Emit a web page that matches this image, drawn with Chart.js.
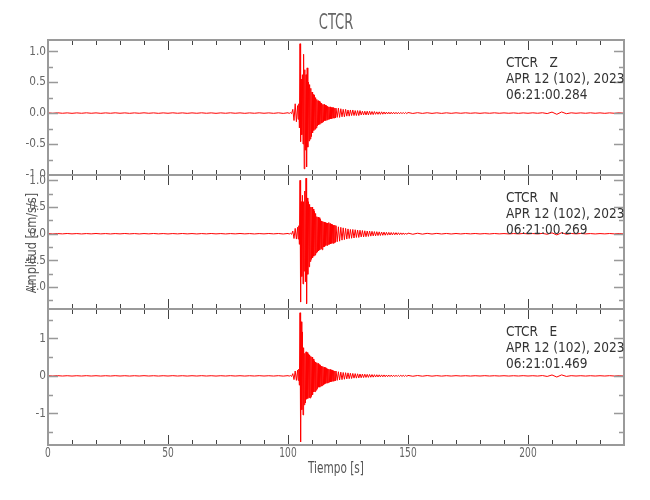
<!DOCTYPE html>
<html>
<head>
<meta charset="utf-8">
<script src="https://cdn.jsdelivr.net/npm/chart.js@4/dist/chart.umd.min.js"></script>
<style>
html,body{margin:0;padding:0;background:#fff;}
#wrap{position:relative;width:650px;height:500px;overflow:hidden;background:#fff;}
canvas{position:absolute;left:0;}
.txt{position:absolute;font-family:"Liberation Sans Narrow","DejaVu Sans Condensed","Liberation Sans",sans-serif;color:#555;white-space:nowrap;z-index:5;text-align:center;}
#title{left:236px;width:200px;top:8px;line-height:28px;font-size:22px;color:#666;transform:scaleX(0.66);}
#xtitle{left:236px;width:200px;top:458px;line-height:20px;font-size:15px;color:#555;transform:scaleX(0.78);}
#ytitle{left:-39px;top:234px;width:140px;height:18px;line-height:18px;font-size:14px;color:#555;transform:rotate(-90deg) scaleX(0.9);}
</style>
</head>
<body>
<div id="wrap">
  <canvas id="c1" width="650" height="176" style="top:0px"></canvas>
  <canvas id="c2" width="650" height="140" style="top:170px"></canvas>
  <canvas id="c3" width="650" height="196" style="top:304px"></canvas>
  <div class="txt" id="title">CTCR</div>
  <div class="txt" id="xtitle">Tiempo [s]</div>
  <div class="txt" id="ytitle">Amplitud [cm/s/s]</div>
</div>
<script>
// ---- DATA ----
const tiempo = [
  0, 2, 4, 6, 8, 10, 12, 14, 16, 18,
  20, 22, 24, 26, 28, 30, 32, 34, 36, 38,
  40, 42, 44, 46, 48, 50, 52, 54, 56, 58,
  60, 62, 64, 66, 68, 70, 72, 74, 76, 78,
  80, 82, 84, 86, 88, 90, 92, 94, 96, 98,
  100, 100.5, 101, 101.5, 102, 102.5, 103, 103.5,
  104, 104.25, 104.5, 104.75, 105, 105.25, 105.5, 105.75,
  106, 106.25, 106.5, 106.75, 107, 107.25, 107.5, 107.75,
  108, 108.25, 108.5, 108.75, 109, 109.25, 109.5, 109.75,
  110, 110.25, 110.5, 110.75, 111, 111.25, 111.5, 111.75,
  112, 112.25, 112.5, 112.75, 113, 113.25, 113.5, 113.75,
  114, 114.25, 114.5, 114.75, 115, 115.25, 115.5, 115.75,
  116, 116.25, 116.5, 116.75, 117, 117.25, 117.5, 117.75,
  118, 118.25, 118.5, 118.75, 119, 119.25, 119.5, 119.75,
  120, 120.5, 121, 121.5, 122, 122.5, 123, 123.5, 124, 124.5,
  125, 125.5, 126, 126.5, 127, 127.5, 128, 128.5, 129, 129.5,
  130, 130.5, 131, 131.5, 132, 132.5, 133, 133.5, 134, 134.5,
  135, 135.5, 136, 136.5, 137, 137.5, 138, 138.5, 139, 139.5,
  140, 140.5, 141, 141.5, 142, 142.5, 143, 143.5, 144, 144.5,
  145, 145.5, 146, 146.5, 147, 147.5, 148, 148.5, 149, 149.5,
  150, 152, 154, 156, 158, 160, 162, 164, 166, 168,
  170, 172, 174, 176, 178, 180, 182, 184, 186, 188,
  190, 192, 194, 196, 198, 200, 202, 204, 206, 208,
  210, 212, 214, 216, 218, 220, 222, 224, 226, 228,
  230, 232, 234, 236, 238, 240
];

const compZ = [
  0.003, -0.003, 0.004, -0.003, 0.003, -0.004, 0.003, -0.003, 0.004, -0.003,
  0.003, -0.004, 0.003, -0.003, 0.004, -0.003, 0.003, -0.004, 0.003, -0.003,
  0.004, -0.003, 0.003, -0.004, 0.003, -0.003, 0.004, -0.003, 0.003, -0.004,
  0.003, -0.003, 0.004, -0.003, 0.003, -0.004, 0.003, -0.003, 0.004, -0.003,
  0.003, -0.004, 0.003, -0.003, 0.004, -0.003, 0.003, -0.004, 0.004, -0.005,
  0.005, -0.006, 0.008, -0.010, 0.06, -0.12, 0.15, -0.14,
  0.12, -0.10, 0.15, -0.24, 1.12, -0.46, 0.55, -0.35,
  0.62, -0.50, 0.95, -0.90, 0.70, -0.60, 0.62, -0.87,
  0.73, -0.55, 0.50, -0.45, 0.46, -0.42, 0.40, -0.38,
  0.34, -0.32, 0.30, -0.28, 0.29, -0.26, 0.25, -0.24,
  0.22, -0.21, 0.20, -0.19, 0.19, -0.18, 0.17, -0.16,
  0.16, -0.15, 0.14, -0.14, 0.14, -0.12, 0.13, -0.12,
  0.12, -0.11, 0.11, -0.10, 0.10, -0.10, 0.10, -0.09,
  0.09, -0.09, 0.09, -0.08, 0.09, -0.08, 0.08, -0.08,
  0.08, -0.07, 0.08, -0.07, 0.07, -0.06, 0.06, -0.06, 0.06, -0.05,
  0.05, -0.05, 0.05, -0.04, 0.05, -0.04, 0.04, -0.04, 0.04, -0.04,
  0.04, -0.03, 0.03, -0.03, 0.03, -0.03, 0.03, -0.03, 0.03, -0.025,
  0.025, -0.025, 0.025, -0.02, 0.02, -0.02, 0.02, -0.02, 0.02, -0.018,
  0.018, -0.016, 0.016, -0.015, 0.015, -0.014, 0.014, -0.013, 0.013, -0.012,
  0.012, -0.012, 0.011, -0.011, 0.011, -0.010, 0.010, -0.010, 0.010, -0.009,
  0.009, -0.006, 0.006, -0.005, 0.005, -0.005, 0.004, -0.005, 0.004, -0.004,
  0.004, -0.003, 0.004, -0.003, 0.003, -0.004, 0.003, -0.003, 0.004, -0.003,
  0.003, -0.003, 0.003, -0.004, 0.003, -0.003, 0.004, -0.003, 0.005, -0.008,
  0.016, -0.020, 0.018, -0.010, 0.004, -0.003, 0.003, -0.003, 0.004, -0.003,
  0.003, -0.004, 0.003, -0.003, 0.004, -0.003
];

const compN = [
  0.003, -0.004, 0.003, -0.003, 0.004, -0.003, 0.003, -0.004, 0.003, -0.003,
  0.004, -0.003, 0.003, -0.004, 0.003, -0.003, 0.004, -0.003, 0.003, -0.004,
  0.003, -0.003, 0.004, -0.003, 0.003, -0.004, 0.003, -0.003, 0.004, -0.003,
  0.003, -0.004, 0.003, -0.003, 0.004, -0.003, 0.003, -0.004, 0.003, -0.003,
  0.004, -0.003, 0.003, -0.004, 0.003, -0.003, 0.004, -0.003, 0.004, -0.005,
  0.005, -0.006, 0.008, -0.010, 0.05, -0.09, 0.10, -0.10,
  0.12, -0.10, 0.15, -0.20, 1.00, -1.28, 0.60, -0.80,
  0.72, -0.94, 0.60, -0.70, 0.80, -0.90, 1.04, -1.31,
  0.67, -0.76, 0.60, -0.62, 0.55, -0.52, 0.50, -0.48,
  0.50, -0.45, 0.46, -0.42, 0.42, -0.40, 0.38, -0.36,
  0.32, -0.34, 0.31, -0.32, 0.30, -0.30, 0.27, -0.28,
  0.24, -0.30, 0.23, -0.25, 0.22, -0.24, 0.21, -0.22,
  0.20, -0.22, 0.20, -0.20, 0.21, -0.20, 0.19, -0.19,
  0.18, -0.18, 0.17, -0.18, 0.16, -0.17, 0.16, -0.16,
  0.15, -0.15, 0.13, -0.14, 0.12, -0.12, 0.11, -0.11, 0.10, -0.10,
  0.09, -0.09, 0.08, -0.085, 0.08, -0.08, 0.075, -0.07, 0.07, -0.07,
  0.065, -0.06, 0.06, -0.06, 0.055, -0.055, 0.05, -0.05, 0.05, -0.045,
  0.045, -0.04, 0.04, -0.04, 0.038, -0.035, 0.035, -0.033, 0.032, -0.03,
  0.03, -0.028, 0.027, -0.026, 0.025, -0.024, 0.023, -0.022, 0.021, -0.02,
  0.02, -0.019, 0.018, -0.017, 0.016, -0.016, 0.015, -0.014, 0.013, -0.013,
  0.012, -0.010, 0.009, -0.008, 0.007, -0.006, 0.006, -0.005, 0.005, -0.005,
  0.004, -0.004, 0.004, -0.003, 0.004, -0.004, 0.003, -0.004, 0.004, -0.003,
  0.003, -0.004, 0.003, -0.003, 0.004, -0.003, 0.003, -0.004, 0.006, -0.010,
  0.016, -0.022, 0.018, -0.010, 0.004, -0.003, 0.004, -0.003, 0.003, -0.004,
  0.003, -0.003, 0.004, -0.003, 0.003, -0.004
];

const compE = [
  0.004, -0.004, 0.005, -0.004, 0.004, -0.005, 0.004, -0.004, 0.005, -0.004,
  0.004, -0.005, 0.004, -0.004, 0.005, -0.004, 0.004, -0.005, 0.004, -0.004,
  0.005, -0.004, 0.004, -0.005, 0.004, -0.004, 0.005, -0.004, 0.004, -0.005,
  0.004, -0.004, 0.005, -0.004, 0.004, -0.005, 0.004, -0.004, 0.005, -0.004,
  0.004, -0.005, 0.004, -0.004, 0.005, -0.004, 0.004, -0.005, 0.005, -0.006,
  0.006, -0.007, 0.010, -0.015, 0.06, -0.10, 0.13, -0.12,
  0.15, -0.12, 0.18, -0.25, 1.68, -1.76, 1.44, -0.90,
  1.17, -1.04, 0.75, -0.77, 0.60, -0.72, 0.64, -0.62,
  0.62, -0.60, 0.58, -0.58, 0.56, -0.59, 0.52, -0.55,
  0.50, -0.50, 0.45, -0.43, 0.40, -0.42, 0.37, -0.38,
  0.35, -0.34, 0.33, -0.30, 0.30, -0.30, 0.28, -0.27,
  0.26, -0.26, 0.25, -0.24, 0.23, -0.22, 0.22, -0.20,
  0.20, -0.19, 0.19, -0.18, 0.18, -0.17, 0.17, -0.16,
  0.16, -0.15, 0.15, -0.14, 0.14, -0.13, 0.13, -0.13,
  0.13, -0.12, 0.11, -0.11, 0.10, -0.10, 0.09, -0.09, 0.085, -0.08,
  0.08, -0.075, 0.07, -0.07, 0.065, -0.06, 0.06, -0.06, 0.055, -0.055,
  0.05, -0.05, 0.048, -0.045, 0.045, -0.042, 0.04, -0.04, 0.038, -0.036,
  0.035, -0.034, 0.032, -0.031, 0.03, -0.029, 0.028, -0.027, 0.026, -0.025,
  0.025, -0.024, 0.023, -0.022, 0.021, -0.02, 0.02, -0.019, 0.018, -0.018,
  0.017, -0.016, 0.016, -0.015, 0.015, -0.014, 0.014, -0.013, 0.013, -0.012,
  0.012, -0.010, 0.009, -0.008, 0.008, -0.007, 0.006, -0.006, 0.005, -0.005,
  0.005, -0.004, 0.004, -0.005, 0.004, -0.004, 0.005, -0.004, 0.004, -0.004,
  0.004, -0.005, 0.004, -0.004, 0.005, -0.004, 0.004, -0.005, 0.008, -0.015,
  0.024, -0.030, 0.026, -0.014, 0.005, -0.004, 0.004, -0.005, 0.004, -0.004,
  0.004, -0.004, 0.005, -0.004, 0.004, -0.005
];

const infoZ = ['CTCR   Z', 'APR 12 (102), 2023', '06:21:00.284'];
const infoN = ['CTCR   N', 'APR 12 (102), 2023', '06:21:00.269'];
const infoE = ['CTCR   E', 'APR 12 (102), 2023', '06:21:01.469'];

// ---- CHARTS ----
const FONT = '"Liberation Sans Narrow", "DejaVu Sans Condensed", "Liberation Sans", sans-serif';

const panelFrame = {
  id: 'panelFrame',
  afterDraw(chart, args, opts) {
    const {ctx, chartArea: a} = chart;
    const xs = chart.scales.x, ys = chart.scales.y;
    ctx.save();
    // x ticks (top & bottom, inward)
    ctx.lineWidth = 1;
    ctx.strokeStyle = '#444';
    ctx.beginPath();
    xs.ticks.forEach(t => {
      const px = Math.round(xs.getPixelForValue(t.value)) + 0.5;
      const len = (t.value % 50 === 0) ? 10 : 5;
      ctx.moveTo(px, a.top); ctx.lineTo(px, a.top + len);
      ctx.moveTo(px, a.bottom); ctx.lineTo(px, a.bottom - len);
    });
    ctx.stroke();
    // y ticks (left & right, inward)
    ctx.strokeStyle = '#999';
    ctx.lineWidth = 1.5;
    ctx.beginPath();
    ys.ticks.forEach(t => {
      const py = Math.round(ys.getPixelForValue(t.value)) + 0.5;
      const len = (opts.fmt(t.value) !== '') ? 10 : 5;
      ctx.moveTo(a.left, py); ctx.lineTo(a.left + len, py);
      ctx.moveTo(a.right, py); ctx.lineTo(a.right - len, py);
    });
    ctx.stroke();
    // frame
    ctx.strokeStyle = '#9a9a9a';
    ctx.lineWidth = 2;
    ctx.strokeRect(a.left, a.top, a.right - a.left, a.bottom - a.top);
    // y tick labels
    ctx.fillStyle = '#666';
    ctx.font = '13px ' + FONT;
    ctx.textAlign = 'right';
    ctx.textBaseline = 'middle';
    ys.ticks.forEach(t => {
      const s = opts.fmt(t.value);
      if (!s) return;
      const py = ys.getPixelForValue(t.value);
      ctx.save();
      ctx.translate(a.left - 2, py);
      ctx.scale(0.9, 1);
      ctx.fillText(s, 0, 0);
      ctx.restore();
    });
    // x tick labels (bottom panel only)
    if (opts.xLabels) {
      ctx.font = '14px ' + FONT;
      ctx.textAlign = 'center';
      xs.ticks.forEach(t => {
        if (t.value % 50 !== 0) return;
        const px = xs.getPixelForValue(t.value);
        ctx.save();
        ctx.translate(px, a.bottom + 8);
        ctx.scale(0.72, 1);
        ctx.fillText(String(t.value), 0, 0);
        ctx.restore();
      });
    }
    // station info
    ctx.fillStyle = '#333';
    ctx.font = '13.5px ' + FONT;
    ctx.textAlign = 'left';
    ctx.textBaseline = 'middle';
    (opts.lines || []).forEach((l, i) => ctx.fillText(l, a.left + 458, a.top + 23 + 16 * i));
    ctx.restore();
  }
};

function makePanel(id, values, yMin, yMax, yStep, fmt, pad, info, isBottom) {
  return new Chart(document.getElementById(id), {
    type: 'line',
    data: {
      datasets: [{
        data: tiempo.map((t, i) => ({x: t, y: values[i]})),
        borderColor: '#ff0000',
        borderWidth: 1,
        pointRadius: 0,
        tension: 0,
        fill: false
      }]
    },
    options: {
      responsive: false,
      animation: false,
      events: [],
      layout: {padding: pad},
      plugins: {
        legend: {display: false},
        tooltip: {enabled: false},
        panelFrame: {lines: info, fmt: fmt, xLabels: isBottom}
      },
      scales: {
        x: {
          type: 'linear', min: 0, max: 240, position: 'bottom',
          ticks: {stepSize: 10, display: false, autoSkip: false},
          grid: {display: false, drawTicks: false},
          border: {display: false},
          afterFit: s => { s.height = isBottom ? 55 : 0; s.paddingLeft = 0; s.paddingRight = 0; }
        },
        y: {
          type: 'linear', min: yMin, max: yMax, position: 'left',
          ticks: {stepSize: yStep, display: false, autoSkip: false, includeBounds: false},
          grid: {display: false, drawTicks: false},
          border: {display: false},
          afterFit: s => { s.width = 48; s.paddingTop = 0; s.paddingBottom = 0; }
        }
      }
    },
    plugins: [panelFrame]
  });
}

const fmtHalf = v => (Math.abs(v * 2 - Math.round(v * 2)) < 1e-9 ? v.toFixed(1) : '');
const fmtInt = v => (Math.abs(v - Math.round(v)) < 1e-9 ? String(Math.round(v)) : '');

makePanel('c1', compZ, -1.0, 1.18, 0.25, fmtHalf, {top: 40, bottom: 1, left: 0, right: 26}, infoZ, false);
makePanel('c2', compN, -1.41, 1.10, 0.25, fmtHalf, {top: 5, bottom: 1, left: 0, right: 26}, infoN, false);
makePanel('c3', compE, -1.84, 1.78, 0.5, fmtInt, {top: 5, bottom: 0, left: 0, right: 26}, infoE, true);
</script>
</body>
</html>
